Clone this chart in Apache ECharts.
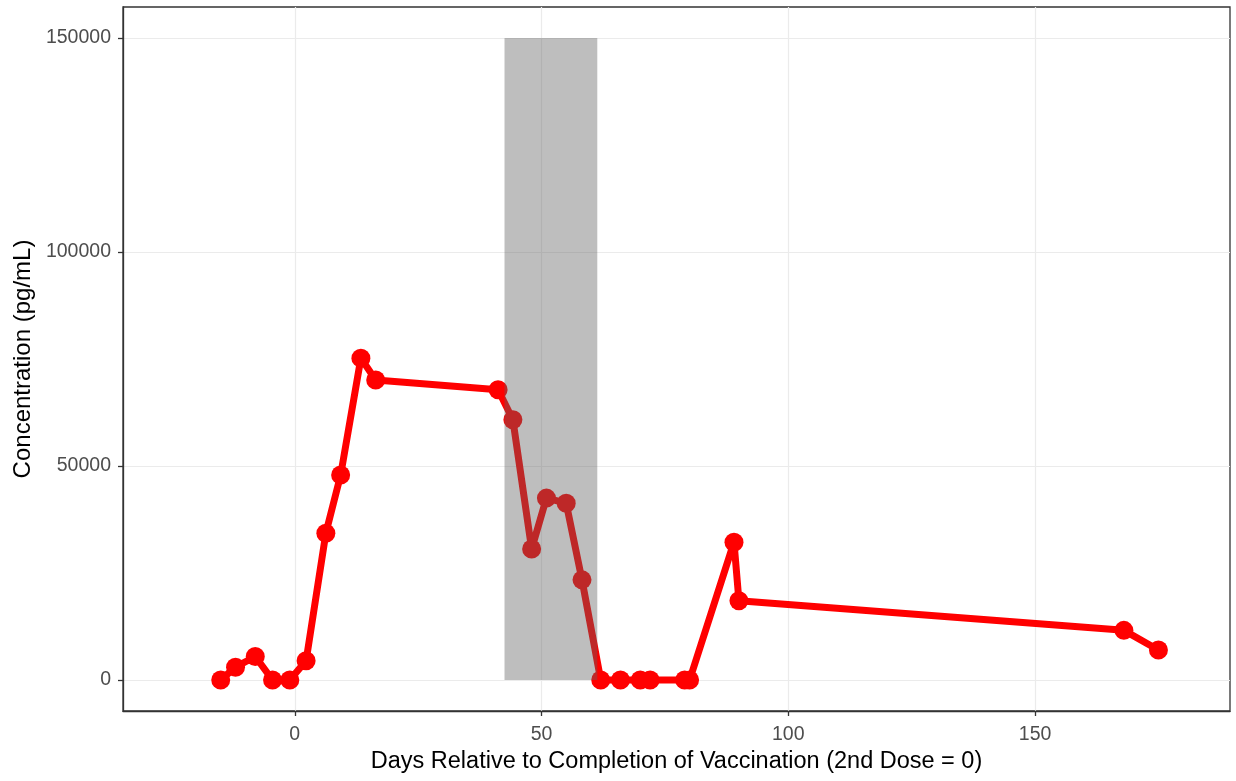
<!DOCTYPE html>
<html>
<head>
<meta charset="utf-8">
<script src="https://cdn.jsdelivr.net/npm/echarts@6/dist/echarts.min.js"></script>
<style>
  html, body { margin: 0; padding: 0; background: #fff; }
  #main { width: 1236px; height: 781px; }
</style>
</head>
<body>
<div id="main"></div>
<script>
// days relative to 2nd dose, concentration in pg/mL
const days = [-15, -12, -8, -4.5, -1, 2.3, 6.3, 9.3, 13.4, 16.4, 41.2, 44.2, 48, 51, 55, 58.2, 62, 66, 70, 72, 79, 80, 89, 90, 168, 175];
const conc = [0, 3000, 5500, 0, 0, 4500, 34300, 47900, 75200, 70100, 67800, 60800, 30600, 42500, 41300, 23400, 0, 0, 0, 0, 0, 0, 32200, 18500, 11600, 7000];
const shadeStart = 42.5;
const shadeEnd = 61.3;
const shadeTop = 150000;
const xTicks = [0, 50, 100, 150];
const yTicks = [0, 50000, 100000, 150000];

const points = days.map((d, i) => [d, conc[i]]);

const chart = echarts.init(document.getElementById('main'));
chart.setOption({
    animation: false,
    backgroundColor: '#fff',
    grid: { left: 123, right: 6, top: 7, bottom: 70, show: true, borderColor: '#333', borderWidth: 1.3 },
    xAxis: {
        type: 'value',
        min: -34.8, max: 189.5,
        interval: 25,
        name: 'Days Relative to Completion of Vaccination (2nd Dose = 0)',
        nameLocation: 'middle',
        nameGap: 39,
        nameTextStyle: { color: '#000', fontSize: 23.5, fontFamily: 'Liberation Sans' },
        axisLine: { show: true, onZero: false, lineStyle: { color: '#333', width: 1.3 } },
        axisTick: { show: true, length: 5, lineStyle: { color: '#333', width: 1.3 }, customValues: xTicks },
        axisLabel: {
            color: '#4d4d4d', fontSize: 19.5, fontFamily: 'Liberation Sans', margin: 14,
            customValues: xTicks, formatter: v => String(v)
        },
        splitLine: { show: true, lineStyle: { color: '#ebebeb', width: 1.2 } }
    },
    yAxis: {
        type: 'value',
        min: -7243, max: 157243,
        interval: 25000,
        name: 'Concentration (pg/mL)',
        nameLocation: 'middle',
        nameGap: 86,
        nameTextStyle: { color: '#000', fontSize: 24, fontFamily: 'Liberation Sans' },
        axisLine: { show: true, onZero: false, lineStyle: { color: '#333', width: 1.3 } },
        axisTick: { show: true, length: 5, lineStyle: { color: '#333', width: 1.3 }, customValues: yTicks },
        axisLabel: {
            color: '#4d4d4d', fontSize: 19.5, fontFamily: 'Liberation Sans', margin: 12,
            customValues: yTicks, formatter: v => String(v)
        },
        splitLine: { show: true, lineStyle: { color: '#ebebeb', width: 1.2 } }
    },
    series: [
        {
            type: 'line',
            data: points,
            z: 2,
            symbol: 'circle',
            symbolSize: 19,
            itemStyle: { color: '#ff0000' },
            lineStyle: { color: '#ff0000', width: 7 }
        },
        {
            type: 'line',
            data: [],
            z: 5,
            markArea: {
                silent: true,
                z: 10,
                itemStyle: { color: 'rgba(96,96,96,0.41)' },
                data: [[{ coord: [shadeStart, 0] }, { coord: [shadeEnd, shadeTop] }]]
            }
        }
    ]
});
</script>
</body>
</html>
